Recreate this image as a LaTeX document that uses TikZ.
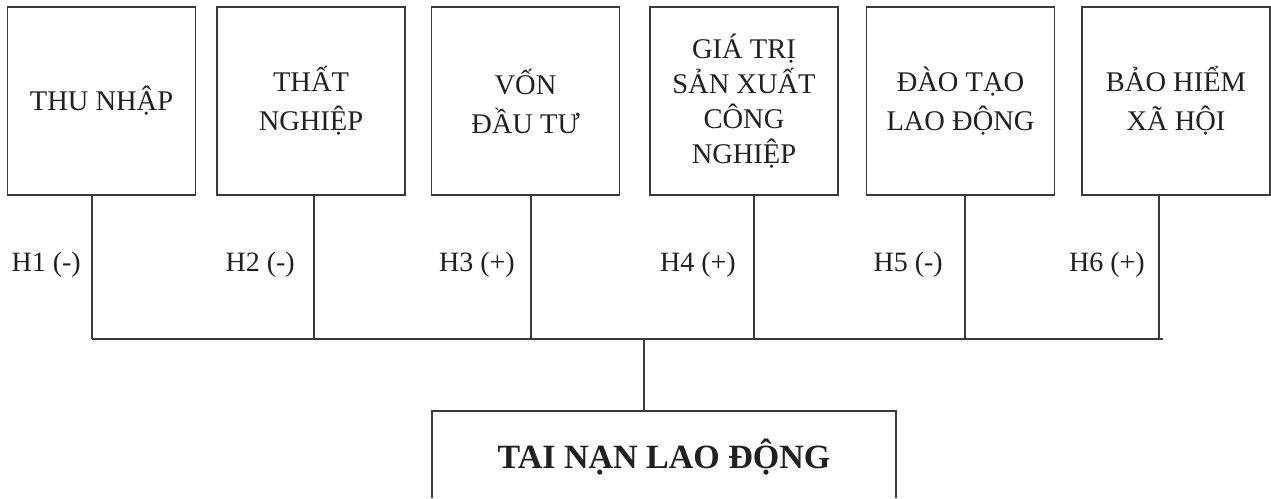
\documentclass[tikz,border=0pt]{standalone}
\usepackage{fontspec}
\setmainfont{Liberation Serif}
\definecolor{inkc}{HTML}{231F20}
\definecolor{linec}{HTML}{3A3A3A}
\begin{document}
\begin{tikzpicture}[x=1pt,y=-1pt,
  topbox/.style={draw=linec, line width=1.3pt, minimum width=188pt, minimum height=188pt,
    inner sep=0pt, outer sep=0pt, align=center, text=inkc},
  boxfont/.style={font=\fontsize{28.5}{39}\selectfont},
  boxfontfour/.style={font=\fontsize{28.5}{35}\selectfont},
  hlabel/.style={anchor=base east, inner sep=0pt, text=inkc, font=\fontsize{28}{32}\selectfont},
  conn/.style={draw=linec, line width=1.3pt},
  titlefont/.style={anchor=base, inner sep=0pt, text=inkc, font=\bfseries\fontsize{34}{38}\selectfont}
]
\useasboundingbox (0,0) rectangle (1271,498);
\fill[white] (0,0) rectangle (1271,498);

% top boxes
\node[topbox, boxfont] (b1) at (101.5,101) {THU NHẬP};
\node[topbox, boxfont] (b2) at (311,101) {THẤT\\NGHIỆP};
\node[topbox, boxfont] (b3) at (525.5,101) {VỐN\\ĐẦU TƯ};
\node[topbox, boxfontfour] (b4) at (744,101) {GIÁ TRỊ\\SẢN XUẤT\\CÔNG\\NGHIỆP};
\node[topbox, boxfont] (b5) at (960.5,101) {ĐÀO TẠO\\LAO ĐỘNG};
\node[topbox, boxfont] (b6) at (1176,101) {BẢO HIỂM\\XÃ HỘI};

% junction coordinates
\coordinate (j1) at (92,339);
\coordinate (j2) at (314,339);
\coordinate (j3) at (531,339);
\coordinate (j4) at (754,339);
\coordinate (j5) at (965,339);
\coordinate (j6) at (1159,339);
\coordinate (hend) at (1163,339);
\coordinate (c) at (644,339);

% labels
\node[hlabel] (h1) at (81,271) {H1 (-)};
\node[hlabel] (h2) at (295,271) {H2 (-)};
\node[hlabel] (h3) at (515,271) {H3 (+)};
\node[hlabel] (h4) at (736,271) {H4 (+)};
\node[hlabel] (h5) at (943,271) {H5 (-)};
\node[hlabel] (h6) at (1145,271) {H6 (+)};

% bottom box (open at the bottom edge of the picture)
\node[minimum width=464pt, minimum height=87pt, inner sep=0pt, outer sep=0pt] (tb) at (664,454.5) {};
\draw[conn] (tb.south west) -- (tb.north west) -- (tb.north east) -- (tb.south east);
\node[titlefont] (tt) at (664,468) {TAI NẠN LAO ĐỘNG};

% connectors
\draw[conn] (b1.south -| j1) -- (j1);
\draw[conn] (b2.south -| j2) -- (j2);
\draw[conn] (b3.south -| j3) -- (j3);
\draw[conn] (b4.south -| j4) -- (j4);
\draw[conn] (b5.south -| j5) -- (j5);
\draw[conn] (b6.south -| j6) -- (j6);
\draw[conn] (j1) -- (hend);
\draw[conn] (c) -- (c |- tb.north);
\end{tikzpicture}
\end{document}
